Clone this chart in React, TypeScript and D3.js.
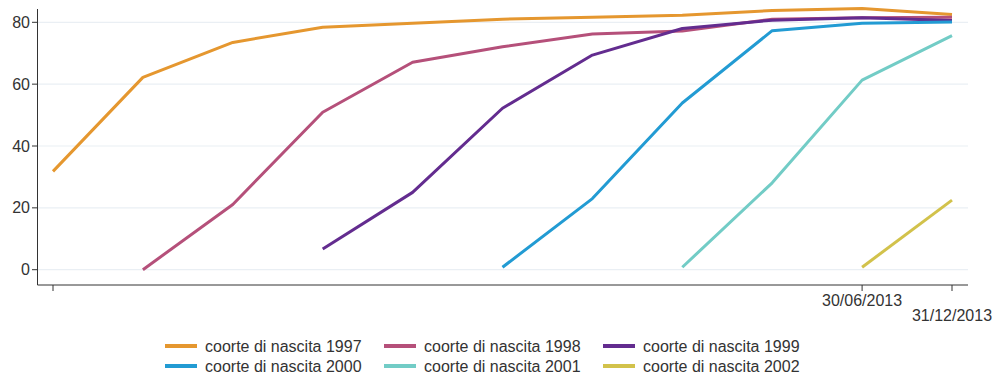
import React from "react";
import * as d3 from "d3";

const periods = [
  "31/12/2008", "30/06/2009", "31/12/2009", "30/06/2010", "31/12/2010",
  "30/06/2011", "31/12/2011", "30/06/2012", "31/12/2012", "30/06/2013", "31/12/2013",
];
const tickIndices = [0, 9, 10];
const tickLabels = ["", "30/06/2013", "31/12/2013"];
const yTicks = [0, 20, 40, 60, 80];

const seriesNames = [
  "coorte di nascita 1997", "coorte di nascita 1998", "coorte di nascita 1999",
  "coorte di nascita 2000", "coorte di nascita 2001", "coorte di nascita 2002",
];
const seriesColors = ["#e5972f", "#b5507a", "#632c8f", "#229bd3", "#72ccc6", "#d2c24b"];

const s1997 = [31.8, 62.2, 73.5, 78.4, 79.7, 81.0, 81.6, 82.3, 83.8, 84.5, 82.5];
const s1998 = [null, 0, 21.1, 50.9, 67.1, 72.1, 76.2, 77.2, 81.0, 81.5, 81.6];
const s1999 = [null, null, null, 6.7, 25.0, 52.2, 69.4, 78.0, 80.7, 81.5, 80.6];
const s2000 = [null, null, null, null, null, 0.8, 23.0, 53.9, 77.3, 79.7, 80.1];
const s2001 = [null, null, null, null, null, null, null, 0.8, 28.1, 61.3, 75.7];
const s2002 = [null, null, null, null, null, null, null, null, null, 0.8, 22.5];
const allSeries = [s1997, s1998, s1999, s2000, s2001, s2002];

export default function App() {
  const W = 994, H = 375;
  const axisLeft = 37.5, axisRight = 968, axisBottom = 285, axisTop = 9;
  const x = d3.scaleLinear().domain([0, periods.length - 1]).range([53, 952]);
  const y = d3.scaleLinear().domain([0, 80]).range([269.7, 22.3]);
  const line = d3.line<number | null>()
    .defined((d) => d !== null)
    .x((_, i) => x(i))
    .y((d) => y(d as number));
  const font = "'Liberation Sans', Arial, sans-serif";
  const textColor = "#333";

  return (
    <svg width={W} height={H} style={{ position: "absolute", left: 0, top: 0 }} fontFamily={font}>
      <rect width={W} height={H} fill="#fff" />
      {yTicks.map((t) => (
        <line key={"g" + t} x1={axisLeft} x2={axisRight} y1={y(t)} y2={y(t)} stroke="#eaeff4" strokeWidth={1.2} />
      ))}
      <line x1={axisLeft} x2={axisLeft} y1={axisTop} y2={axisBottom} stroke="#333" strokeWidth={1} />
      <line x1={axisLeft} x2={axisRight} y1={axisBottom} y2={axisBottom} stroke="#333" strokeWidth={1} />
      {yTicks.map((t) => (
        <g key={"yt" + t}>
          <line x1={axisLeft - 5.5} x2={axisLeft} y1={y(t)} y2={y(t)} stroke="#333" />
          <text x={30} y={y(t)} dy="0.35em" textAnchor="end" fontSize={16} fill={textColor}>{t}</text>
        </g>
      ))}
      {tickIndices.map((ti, k) => (
        <g key={"xt" + ti}>
          <line x1={x(ti)} x2={x(ti)} y1={axisBottom} y2={axisBottom + 6} stroke="#333" />
          <text x={x(ti)} y={k === 2 ? 321 : 306} textAnchor="middle" fontSize={16} fill={textColor}>{tickLabels[k]}</text>
        </g>
      ))}
      {allSeries.map((s, i) => (
        <path key={"s" + i} d={line(s) || ""} fill="none" stroke={seriesColors[i]} strokeWidth={3} strokeLinejoin="round" />
      ))}
      {seriesNames.map((name, i) => {
        const col = i % 3, row = Math.floor(i / 3);
        const lx = 165 + col * 219;
        const ly = 346 + row * 20;
        return (
          <g key={"l" + i}>
            <line x1={lx} x2={lx + 32} y1={ly} y2={ly} stroke={seriesColors[i]} strokeWidth={4} />
            <text x={lx + 40} y={ly} dy="0.35em" fontSize={16} fill={textColor}>{name}</text>
          </g>
        );
      })}
    </svg>
  );
}
